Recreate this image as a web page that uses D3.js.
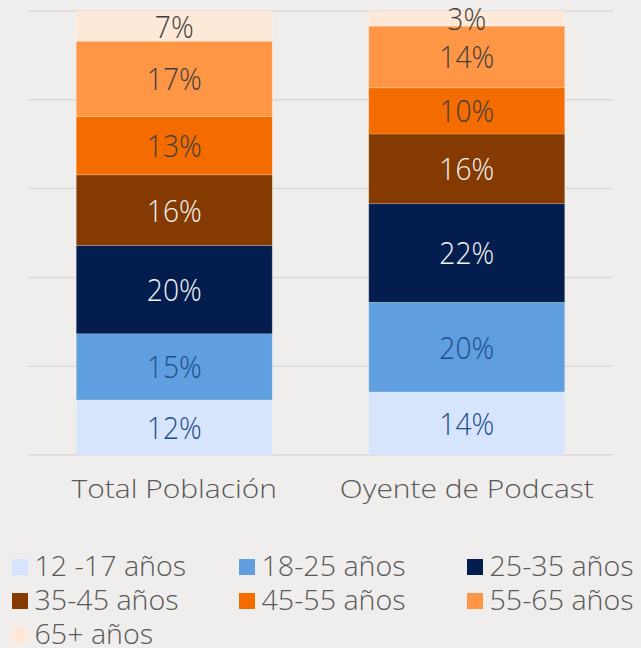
<!DOCTYPE html>
<html>
<head>
	<meta charset="utf-8">
	<title>Edades</title>
	<script type="text/javascript" src="https://d3js.org/d3.v7.min.js"></script>
	<style>
		body { margin: 0; background: #efeeec; }
		text { font-family: "Open Sans", sans-serif; font-weight: 300; }
	</style>
</head>
<body>
	<div id="chart"></div>
	<script>
	// grupos de edad (de abajo hacia arriba)
	var groups = ["12 -17 años", "18-25 años", "25-35 años", "35-45 años", "45-55 años", "55-65 años", "65+ años"];
	var categories = ["Total Población", "Oyente de Podcast"];
	var totalPoblacion = [12.4, 14.9, 19.9, 15.9, 13.1, 17.0, 6.8];
	var oyentePodcast = [14.2, 20.2, 22.2, 15.7, 10.4, 13.9, 3.4];
	var colors = ["#d6e4fc", "#5f9fdf", "#031e4e", "#843a01", "#f46c00", "#ff9645", "#fee8d8"];
	var labelColors = ["#1f4e8c", "#1f4e8c", "#f2f2f2", "#f2f2f2", "#404040", "#404040", "#404040"];
	var yTicks = [0, 20, 40, 60, 80, 100];

	var width = 641;
	var height = 648;
	var margin = {top: 11, right: 28, bottom: 193, left: 28};

	var rows = categories.map(function(c, i) {
		var vals = i === 0 ? totalPoblacion : oyentePodcast;
		var r = {cat: c};
		groups.forEach(function(g, j) { r[g] = vals[j]; });
		return r;
	});

	var svg = d3.select("#chart")
				.append("svg")
					.attr("width", width)
					.attr("height", height);

	var x = d3.scaleBand()
			.domain(categories)
			.range([margin.left, width - margin.right])
			.paddingInner(0.33)
			.paddingOuter(0.165);

	var y = d3.scaleLinear()
			.domain([0, 100])
			.range([height - margin.bottom, margin.top]);

	// the original font is wider than Open Sans, so texts get a horizontal stretch
	function place(px, py, sx) {
		return "translate(" + px + "," + py + ") scale(" + sx + ",1)";
	}

	// gridlines
	svg.append("g")
		.selectAll("line")
		.data(yTicks)
		.enter()
		.append("line")
			.attr("x1", margin.left)
			.attr("x2", width - margin.right)
			.attr("y1", function(d) { return y(d); })
			.attr("y2", function(d) { return y(d); })
			.attr("stroke", "#d9d9d9")
			.attr("stroke-width", 1.5);

	var series = d3.stack().keys(groups)(rows);

	var layer = svg.selectAll("g.layer")
				.data(series)
				.enter()
				.append("g")
				.attr("class", "layer");

	layer.selectAll("rect")
		.data(function(d) { return d; })
		.enter()
		.append("rect")
			.attr("x", function(d) { return x(d.data.cat); })
			.attr("width", x.bandwidth())
			.attr("y", function(d) { return y(d[1]); })
			.attr("height", function(d) { return y(d[0]) - y(d[1]); })
			.attr("fill", function(d) { return colors[groups.indexOf(this.parentNode.__data__.key)]; })
			.attr("stroke", "rgba(255,255,255,0.25)")
			.attr("stroke-width", 0.75);

	var pctSize = 32;
	layer.each(function(s, i) {
		d3.select(this).selectAll("text")
			.data(s)
			.enter()
			.append("text")
				.attr("transform", function(d) {
					var cx = x(d.data.cat) + x.bandwidth() / 2;
					var cy = (y(d[0]) + y(d[1])) / 2 + pctSize * 0.357;
					return place(cx, cy, 0.88);
				})
				.attr("text-anchor", "middle")
				.attr("font-size", pctSize)
				.attr("fill", labelColors[i])
				.text(function(d) { return Math.round(d[1] - d[0]) + "%"; });
	});

	// category labels
	svg.append("g")
		.selectAll("text")
		.data(categories)
		.enter()
		.append("text")
			.attr("transform", function(d) { return place(x(d) + x.bandwidth() / 2, 498, 1.13); })
			.attr("text-anchor", "middle")
			.attr("font-size", 26.5)
			.attr("fill", "#595959")
			.text(function(d) { return d; });

	// legend
	var legendX = [12, 239, 467];
	var legendY = [576, 610, 644];
	var legend = svg.append("g")
				.selectAll("g")
				.data(groups)
				.enter()
				.append("g")
				.attr("transform", function(d, i) {
					return "translate(" + legendX[i % 3] + "," + legendY[Math.floor(i / 3)] + ")";
				});

	legend.append("rect")
		.attr("x", 0)
		.attr("y", -17)
		.attr("width", 16)
		.attr("height", 16)
		.attr("fill", function(d, i) { return colors[i]; });

	legend.append("text")
		.attr("transform", place(22.5, 0, 1.06))
		.attr("font-size", 27)
		.attr("fill", "#595959")
		.text(function(d) { return d; });
	</script>
</body>
</html>
